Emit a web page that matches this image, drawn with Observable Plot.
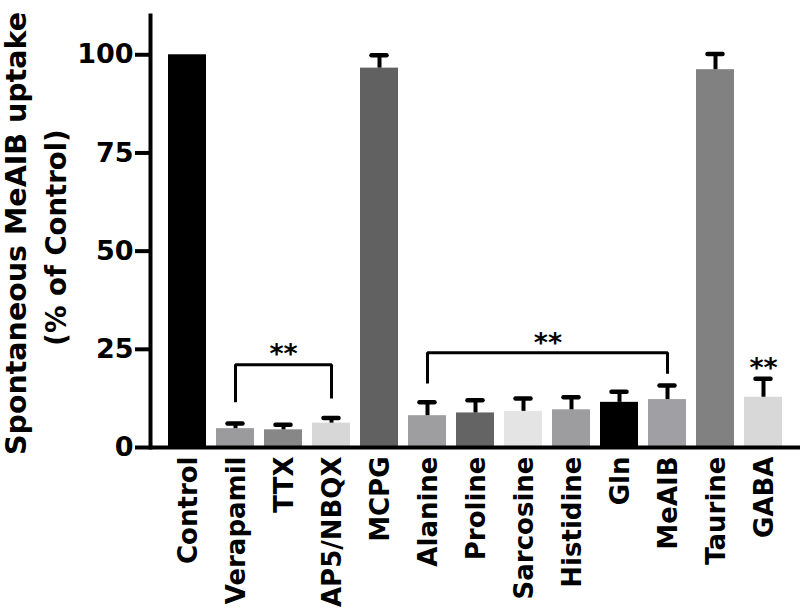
<!DOCTYPE html>
<html><head><meta charset="utf-8">
<script src="https://cdn.jsdelivr.net/npm/d3@7"></script>
<script src="https://cdn.jsdelivr.net/npm/@observablehq/plot@0.6"></script>
<style>
html,body{margin:0;padding:0;background:#fff;}
#chart svg{display:block;}
</style></head><body><div id="chart"></div>
<script>
const categories = ["Control","Verapamil","TTX","AP5/NBQX","MCPG","Alanine","Proline","Sarcosine","Histidine","Gln","MeAIB","Taurine","GABA"];
const values = [100, 4.8, 4.5, 6.2, 96.6, 8.1, 8.8, 9.2, 9.6, 11.5, 12.2, 96.2, 12.8];
const errors = [0, 1.3, 1.3, 1.3, 3.3, 3.4, 3.2, 3.3, 3.2, 2.7, 3.6, 4.0, 4.7];
const colors = ["#000000","#9b9b9d","#878787","#d7d7d7","#616161","#9e9ea1","#646464","#e4e4e4","#9d9da0","#000000","#a0a0a4","#818181","#d8d8d8"];
const yTicks = [0, 25, 50, 75, 100];
const yTitle = ["Spontaneous MeAIB uptake", "(% of Control)"];

// significance brackets
const bracketFrom = ["Verapamil", "Alanine"];
const bracketTo = ["AP5/NBQX", "MeAIB"];
const bracketTop = [21.1, 24.1];
const bracketFromEnd = [11.5, 16.3];
const bracketToEnd = [12.5, 18.8];
// star labels
const starLabel = "**";
const starCat = ["TTX", "Sarcosine", "GABA"];
const starY = [23.7, 26.5, 20.2];

const data = categories.map((c, i) => ({cat: c, v: values[i], e: errors[i], color: colors[i]}));
const brackets = [];
bracketFrom.forEach((f, i) => {
  brackets.push({g: i, cat: f, y: bracketFromEnd[i]});
  brackets.push({g: i, cat: f, y: bracketTop[i]});
  brackets.push({g: i, cat: bracketTo[i], y: bracketTop[i]});
  brackets.push({g: i, cat: bracketTo[i], y: bracketToEnd[i]});
});
const stars = starCat.map((c, i) => ({cat: c, y: starY[i], mid: i === 1}));

const font = "'DejaVu Sans', 'Liberation Sans', Arial, sans-serif";

const chart = Plot.plot({
  width: 800,
  height: 608,
  marginTop: 15,
  marginLeft: 150,
  marginRight: 0,
  marginBottom: 161,
  style: {fontFamily: font, fontWeight: "bold", background: "#fff", color: "#000"},
  x: {domain: categories, paddingInner: 0.2, paddingOuter: 0.267, label: null},
  y: {domain: [0, 110], label: null},
  color: {type: "identity"},
  marks: [
    Plot.barY(data, {x: "cat", y: "v", fill: "color"}),
    Plot.ruleX(data.filter(d => d.e > 0), {x: "cat", y1: "v", y2: d => d.v + d.e, stroke: "#000", strokeWidth: 4}),
    Plot.tickY(data.filter(d => d.e > 0), {x: "cat", y: d => d.v + d.e, stroke: "#000", strokeWidth: 4.5, strokeLinecap: "round", insetLeft: 11.5, insetRight: 11.5}),
    Plot.line(brackets, {x: "cat", y: "y", z: "g", stroke: "#000", strokeWidth: 3, strokeLinejoin: "miter", strokeLinecap: "butt"}),
    Plot.text(stars.filter(d => !d.mid), {x: "cat", y: "y", text: () => starLabel, fontSize: 27, fontWeight: "bold", fill: "#000"}),
    Plot.text(stars.filter(d => d.mid), {x: "cat", y: "y", text: () => starLabel, fontSize: 27, fontWeight: "bold", fill: "#000", dx: 24.4}),
    Plot.ruleY([0], {stroke: "#000", strokeWidth: 4}),
    Plot.frame({anchor: "left", stroke: "#000", strokeWidth: 4}),
    Plot.axisY({ticks: yTicks, tickSize: 15, tickPadding: 2, strokeWidth: 4, fontSize: 27, label: null, tickFormat: d => String(d)}),
    Plot.axisX({tickRotate: -90, tickSize: 0, tickPadding: 9, fontSize: 26, label: null, dx: 1}),
    Plot.text([yTitle[0]], {frameAnchor: "left", textAnchor: "middle", rotate: -90, fontSize: 28.5, fontWeight: "bold", fill: "#000", dx: -134, dy: 2, text: d => d}),
    Plot.text([yTitle[1]], {frameAnchor: "left", textAnchor: "middle", rotate: -90, fontSize: 27.5, fontWeight: "bold", fill: "#000", dx: -93, dy: 6, text: d => d})
  ]
});
document.getElementById("chart").appendChild(chart);
</script>
</body></html>
